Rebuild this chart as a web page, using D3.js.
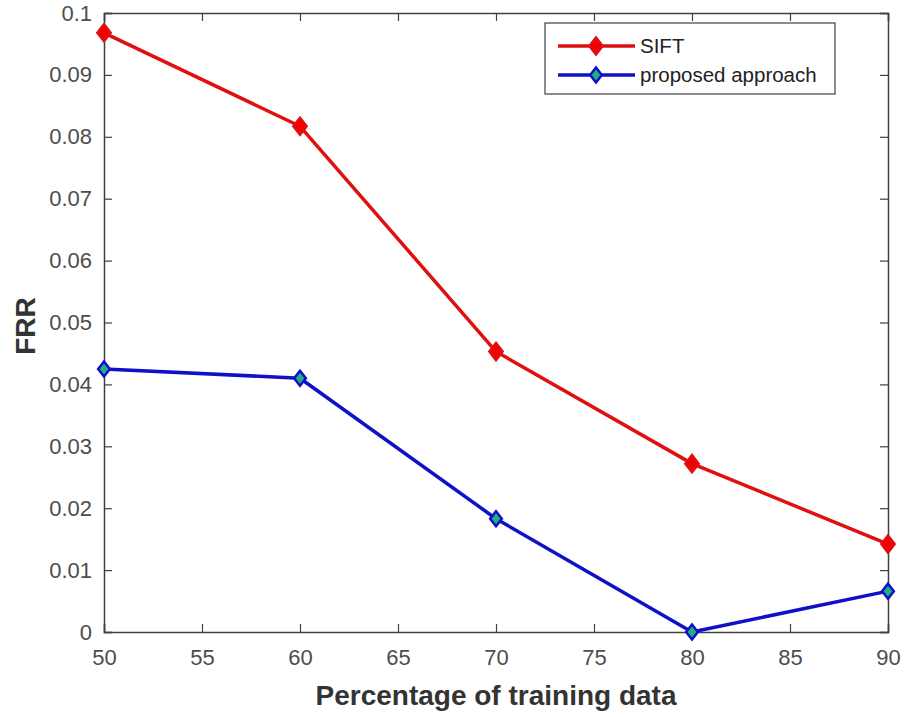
<!DOCTYPE html>
<html>
<head>
<meta charset="utf-8">
<script src="https://cdn.jsdelivr.net/npm/d3@7"></script>
<style>
  body { margin: 0; background: #fff; }
  text { font-family: "Liberation Sans", Arial, sans-serif; }
</style>
</head>
<body>
<svg id="chart" width="904" height="717"></svg>
<script>
// data
const percents = [50, 60, 70, 80, 90];
const siftFRR = [0.0968, 0.0817, 0.0453, 0.0272, 0.0142];
const proposedFRR = [0.0425, 0.0410, 0.0183, 0.0000, 0.0066];
const xTicks = [50, 55, 60, 65, 70, 75, 80, 85, 90];
const yTicks = [0, 0.01, 0.02, 0.03, 0.04, 0.05, 0.06, 0.07, 0.08, 0.09, 0.1];
const seriesNames = ['SIFT', 'proposed approach'];

/* -------------------------------------------------------------------------- */
const m = {left: 104, top: 13, right: 888, bottom: 632};
const svg = d3.select('#chart');

const x = d3.scaleLinear().domain([50, 90]).range([m.left, m.right]);
const y = d3.scaleLinear().domain([0, 0.1]).range([m.bottom, m.top]);

const axisCol = '#404040';
const tickLen = 8;

// axes (matlab-style box with inward ticks)
svg.append('g').attr('transform', `translate(0,${m.bottom})`)
  .call(d3.axisBottom(x).tickValues(xTicks).tickSize(-tickLen).tickPadding(17).tickFormat(d3.format('d')));
svg.append('g').attr('transform', `translate(0,${m.top})`)
  .call(d3.axisTop(x).tickValues(xTicks).tickSize(-tickLen).tickFormat(''));
svg.append('g').attr('transform', `translate(${m.left},0)`)
  .call(d3.axisLeft(y).tickValues(yTicks).tickSize(-tickLen).tickPadding(12)
    .tickFormat(d => d === 0 ? '0' : d3.format('.2~f')(d)));
svg.append('g').attr('transform', `translate(${m.right},0)`)
  .call(d3.axisRight(y).tickValues(yTicks).tickSize(-tickLen).tickFormat(''));

svg.selectAll('.domain').attr('stroke', axisCol).attr('stroke-width', 1.5);
svg.selectAll('.tick line').attr('stroke', axisCol).attr('stroke-width', 1.2);
svg.selectAll('.tick text').attr('fill', '#4d4d4d').style('font-size', '22px')
  .style('font-family', '"Liberation Sans", Arial, sans-serif');

// axis titles
svg.append('text')
  .attr('x', 496).attr('y', 705)
  .attr('text-anchor', 'middle')
  .style('font-size', '28px').style('font-weight', 'bold').attr('fill', '#333')
  .text('Percentage of training data');

svg.append('text')
  .attr('transform', `translate(35,326) rotate(-90)`)
  .attr('text-anchor', 'middle')
  .style('font-size', '28px').style('font-weight', 'bold').attr('fill', '#333')
  .text('FRR');

/* -------------------------------------------------------------------------- */
const styles = [
  {line: '#e01010', fill: '#f00000', stroke: '#e01010', r: 8.5},
  {line: '#1010c8', fill: '#20b080', stroke: '#1010c8', r: 7.5}
];
const diamond = r => `M0,${-r}L${r * 0.78},0L0,${r}L${-r * 0.78},0Z`;

const line = d3.line().x(d => x(d[0])).y(d => y(d[1]));

[siftFRR, proposedFRR].forEach(function(vals, i) {
  let pts = percents.map((p, j) => [p, vals[j]]);
  let st = styles[i];
  svg.append('path').datum(pts)
    .attr('d', line)
    .attr('fill', 'none').attr('stroke', st.line).attr('stroke-width', 3.5)
    .attr('stroke-linejoin', 'round');
  svg.selectAll(null).data(pts).enter().append('path')
    .attr('transform', d => `translate(${x(d[0])},${y(d[1])})`)
    .attr('d', diamond(st.r))
    .attr('fill', st.fill).attr('stroke', st.stroke).attr('stroke-width', 2.5);
});

/* -------------------------------------------------------------------------- */
// legend
const lg = svg.append('g');
lg.append('rect').attr('x', 545).attr('y', 23).attr('width', 290).attr('height', 71)
  .attr('fill', '#fff').attr('stroke', '#404040').attr('stroke-width', 1.2);

seriesNames.forEach(function(name, i) {
  let yy = 46 + i * 29;
  let st = styles[i];
  lg.append('line').attr('x1', 558).attr('x2', 635).attr('y1', yy).attr('y2', yy)
    .attr('stroke', st.line).attr('stroke-width', 3.5);
  lg.append('path').attr('transform', `translate(596,${yy})`).attr('d', diamond(st.r))
    .attr('fill', st.fill).attr('stroke', st.stroke).attr('stroke-width', 2.5);
  lg.append('text').attr('x', 640).attr('y', yy + 7)
    .style('font-size', '20.5px').attr('fill', '#222').text(name);
});
</script>
</body>
</html>
